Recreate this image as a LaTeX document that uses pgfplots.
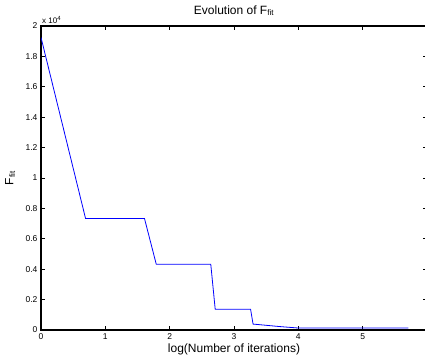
\documentclass[border=0pt]{standalone}
\usepackage{pgfplots}
\pgfplotsset{compat=1.18}
\usepackage{fontspec}
\setmainfont{Liberation Sans}
\begin{document}
\begin{tikzpicture}
\useasboundingbox (-41pt,-30pt) rectangle (384pt,330pt);
\begin{axis}[
  scale only axis, width=386pt, height=304pt,
  at={(0pt,0pt)}, anchor=south west,
  xmin=0, xmax=6, ymin=0, ymax=20000,
  xtick={0,1,2,3,4,5},
  ytick={0,2000,4000,6000,8000,10000,12000,14000,16000,18000,20000},
  scaled y ticks=base 10:-4,
  ytick scale label code/.code={x 10\textsuperscript{4}},
  every y tick scale label/.style={at={(axis description cs:0,1)}, anchor=south west, inner sep=1pt, yshift=1pt, font=\fontsize{8}{9}\selectfont},
  /pgf/number format/assume math mode=true,
  tick label style={font=\fontsize{8.5}{10}\selectfont},
  tick align=inside, major tick length=4pt,
  axis line style={line width=1.1pt},
  every tick/.style={black, line width=0.7pt},
  title={Evolution of F\textsubscript{fit}},
  every axis title/.style={at={(axis description cs:0.5,1)}, anchor=base, yshift=12pt, font=\fontsize{12}{14}\selectfont},
  xlabel={log(Number of iterations)},
  every axis x label/.style={at={(axis description cs:0.5,0)}, anchor=base, yshift=-22pt, font=\fontsize{12}{14}\selectfont},
  ylabel={F\textsubscript{fit}},
  every axis y label/.style={at={(axis description cs:-0.08,0.5)}, anchor=center, rotate=90, font=\fontsize{12}{14}\selectfont},
]
\addplot[color={rgb,255:red,0;green,0;blue,255}, line width=0.8pt] coordinates {
(0,19250)
(0.693,7330)
(1.609,7330)
(1.792,4320)
(2.639,4320)
(2.708,1360)
(3.258,1360)
(3.296,390)
(3.45,330)
(3.6,270)
(3.7,230)
(3.85,180)
(4.0,130)
(5.71,130)
};
\end{axis}
\end{tikzpicture}
\end{document}
